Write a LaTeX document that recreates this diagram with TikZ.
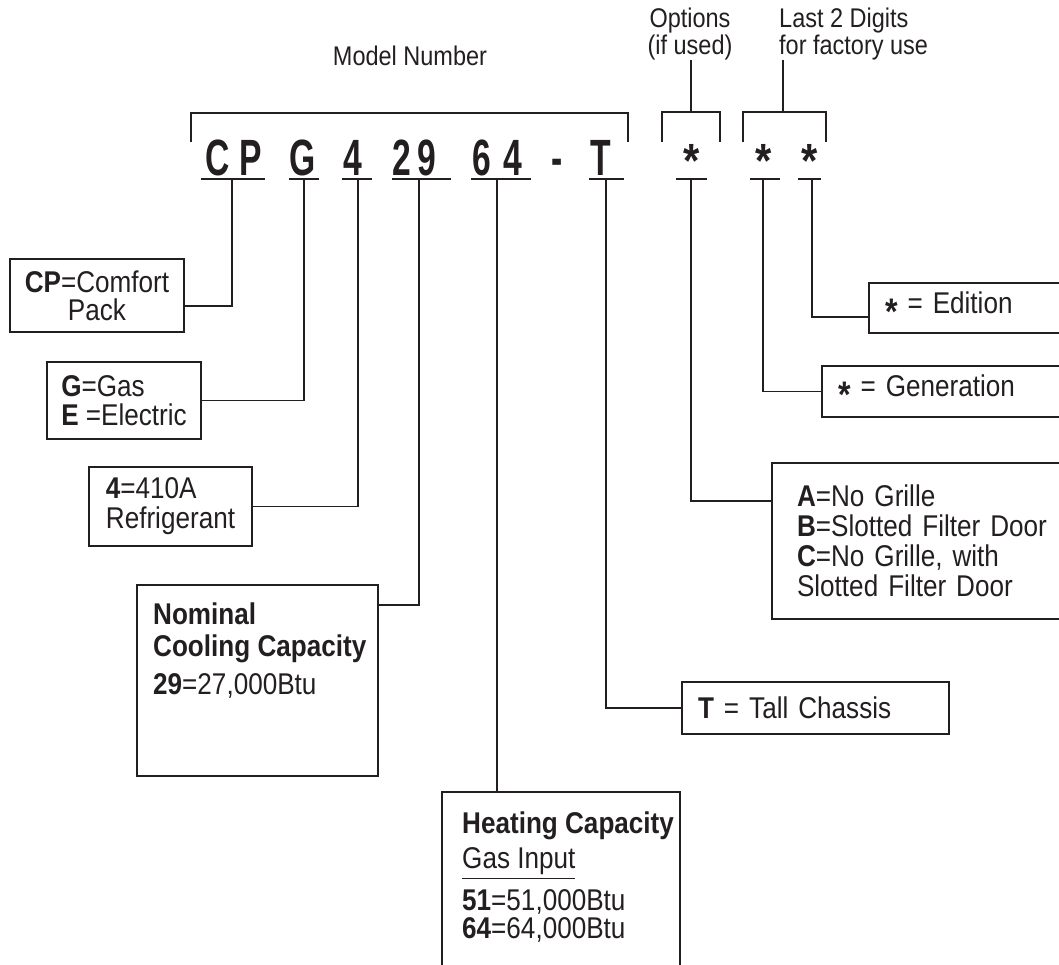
\documentclass[tikz,border=0pt]{standalone}
\usepackage{fontspec}
\setmainfont[FakeStretch=0.87]{Liberation Sans}
\newfontfamily\codefont[FakeStretch=0.66]{Liberation Sans}
\usetikzlibrary{positioning}
\definecolor{ink}{RGB}{35,31,32}
\newcommand{\starmark}{\raisebox{-11pt}{\fontsize{37}{37}\selectfont\bfseries *}}
\newcommand{\ulinetext}[1]{\setbox0\hbox{#1}\rlap{\copy0}\rule[-10pt]{\wd0}{1.2pt}}

\tikzset{
  rule/.style={draw=ink, line width=1.5pt},
  codechar/.style={font=\codefont\bfseries\fontsize{51}{51}\selectfont, text=ink, inner sep=0pt, anchor=base},
  codestar/.style={font=\bfseries\fontsize{48}{48}\selectfont, text=ink, inner sep=0pt, anchor=base},
  head/.style={font=\fontsize{27}{25}\selectfont, text=ink, inner sep=0pt},
  infobox/.style={draw=ink, line width=1.6pt, text=ink, inner xsep=16pt, inner ysep=0pt, font=\fontsize{30}{30}\selectfont},
  infotext/.style={text=ink, inner sep=0pt, align=left, anchor=north west, font=\fontsize{30}{32}\selectfont}
}

\begin{document}
\begin{tikzpicture}[x=1pt,y=-1pt]
\useasboundingbox (0,0) rectangle (1059,965);
\clip (0,0) rectangle (1059,965);

% headings
\node[head] (model) at (410,56) {Model Number};
\node[head, align=center] (opthead) at (690,34) {Options\\(if used)};
\node[head, align=left, anchor=west] (lasthead) at (779,34) {Last 2 Digits\\for factory use};

% brackets
\draw[rule] (191,142) -- (191,113) -- (628,113) -- (628,142);
\draw[rule] (662,142) -- (662,112) -- (720,112) -- (720,142);
\draw[rule] (743,142) -- (743,112) -- (826,112) -- (826,142);
\coordinate (optb) at (691,112);
\coordinate (lastb) at (783,112);
\draw[rule] (optb) -- (optb |- opthead.south);
\draw[rule] (lastb) -- (lastb |- lasthead.south);

% model number
\foreach \ch/\x [count=\i] in {C/217.5,P/250.5,G/302.5,4/353,2/402,9/427,6/482,4/512.5,-/557.5,T/600.5}
  \node[codechar] (code\i) at (\x,176) {\ch};
\foreach \x [count=\i] in {692,764,810}
  \node[codestar] (star\i) at (\x,178) {*};

% underlines and stem feet
\foreach \l/\r/\s/\n in {201/265/232/cp, 289/319/304/fuel, 342/372/358/refr, 392/451/419/cool, 471/531/497/heat, 589/624/606/chassis, 676/707/691/opt, 750/780/763/gen, 798/821/812/ed}{
  \draw[rule] (\l,179) -- (\r,179);
  \coordinate (s\n) at (\s,179);
}

% boxes
\node[infobox, inner xsep=8pt, align=center, minimum width=174pt, minimum height=73pt, font=\fontsize{30}{28}\selectfont] (cpbox) at (97,295.5) {\textbf{CP}=Comfort\\Pack};
\node[infobox, inner xsep=8pt, align=left, minimum width=154pt, minimum height=77pt, font=\fontsize{30}{29}\selectfont] (fuelbox) at (124,400.5) {\textbf{G}=Gas\\\textbf{E} =Electric};
\node[infobox, inner xsep=8pt, align=left, minimum width=163pt, minimum height=79pt] (refrbox) at (170.5,506.5) {\textbf{4}=410A\\Refrigerant};
\node[infobox, minimum width=241pt, minimum height=191pt] (coolbox) at (257.5,680.5) {};
\node[infotext] (cooltext) at (153,603) {\textbf{Nominal}\\\textbf{Cooling Capacity}\\[6pt]\textbf{29}=27,000Btu};
\node[infobox, minimum width=238pt, minimum height=210pt] (heatbox) at (561,897) {};
\node[infotext, font=\fontsize{30}{28}\selectfont] (heattext) at (462,812) {\textbf{Heating Capacity}\\[7pt]\ulinetext{Gas Input}\\[10pt]\textbf{51}=51,000Btu\\\textbf{64}=64,000Btu};
\node[infobox, text width=235pt, align=left, minimum height=52pt] (chassisbox) at (815.5,708) {\textbf{T} = Tall Chassis};
\node[infobox, text width=174pt, align=left, minimum height=50pt] (edbox) at (972,308) {\starmark{} = Edition};
\node[infobox, text width=221pt, align=left, minimum height=51pt] (genbox) at (948.5,391.5) {\starmark{} = Generation};
\node[infobox, inner xsep=25pt, text width=253pt, align=left, minimum height=156pt] (optbox) at (923.5,541) {\textbf{A}=No Grille\\\textbf{B}=Slotted Filter Door\\\textbf{C}=No Grille, with\\Slotted Filter Door};

% connectors
\draw[rule] (scp) |- ([yshift=-10.5pt]cpbox.east);
\draw[rule] (sfuel) |- (fuelbox.east);
\draw[rule] (srefr) |- (refrbox.east);
\draw[rule] (scool) |- ([yshift=-21pt]coolbox.north east);
\draw[rule] (sheat) -- (sheat |- heatbox.north);
\draw[rule] (schassis) |- (chassisbox.west);
\draw[rule] (sopt) |- ([yshift=-39pt]optbox.north west);
\draw[rule] (sgen) |- (genbox.west);
\draw[rule] (sed) |- ([yshift=-9pt]edbox.west);
\end{tikzpicture}
\end{document}
